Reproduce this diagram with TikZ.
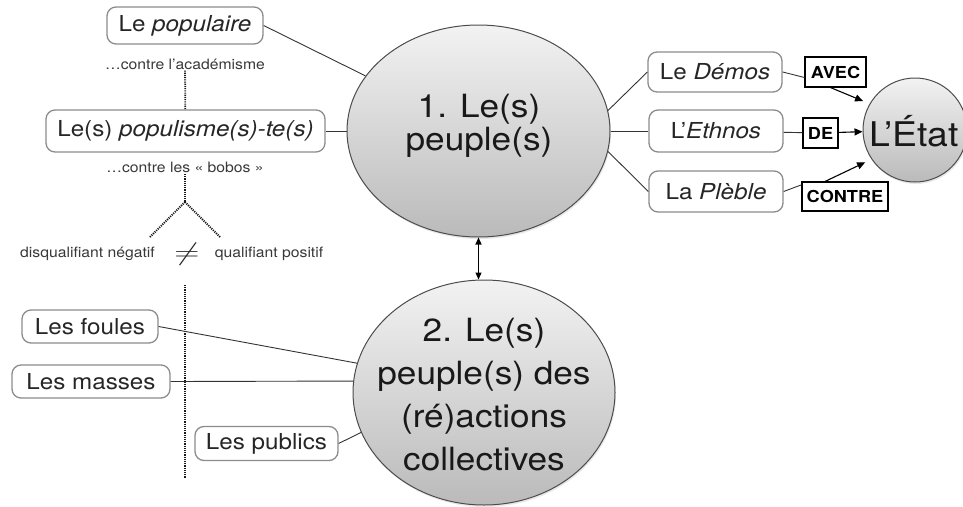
\documentclass[tikz,border=0pt]{standalone}
\usepackage{fontspec}
\usepackage{graphicx}
\setmainfont{TeX Gyre Heros}[FakeStretch=1.1]
\usetikzlibrary{shapes.geometric,arrows.meta,shadows}
\newcommand\bxfont{\fontsize{22}{26}\selectfont}
\newcommand\tgfont{\fontsize{16.5}{18}\selectfont\bfseries}
\newcommand\smfont{\fontsize{14.3}{16}\selectfont}
\newcommand\onefont{\fontsize{32}{33}\selectfont}
\newcommand\twofont{\fontsize{32}{43}\selectfont}
\newcommand\etfont{\fontsize{34}{36}\selectfont}
\begin{document}
\begin{tikzpicture}[x=1pt,y=-1pt,
  box/.style={draw=black!45, line width=1.3pt, rounded corners=9pt, fill=white, inner sep=0pt, text=black!85, font=\bxfont},
  tagbox/.style={draw=black, line width=1.1pt, fill=white, inner sep=0pt, font=\tgfont},
  bubble/.style={shape=ellipse, draw=black!70, line width=1pt, top color=black!5, bottom color=black!27,
     drop shadow={opacity=0.18, shadow xshift=1pt, shadow yshift=-2pt}, inner sep=0pt},
  small/.style={font=\smfont, text=black!78, inner sep=1pt},
  link/.style={draw=black!80, line width=0.9pt},
  arr/.style={draw=black, line width=1.1pt, -{Triangle[length=8pt,width=7pt]}},
  dots/.style={draw=black!90, line width=1.8pt, dash pattern=on 1.1pt off 1.1pt}]
\useasboundingbox (0,0) rectangle (963,506);

% bubbles
\node[bubble, minimum width=263pt, minimum height=212pt] (e1) at (478.5,131) {};
\node[bubble, minimum width=262pt, minimum height=225pt] (e2) at (484,392.5) {};
\node[bubble, shape=circle, minimum size=104pt] (etat) at (915,130) {};
\node[font=\onefont, align=center, inner sep=0pt, text=black!90] (t1) at (479,125.5) {1. Le(s)\\peuple(s)};
\node[font=\twofont, align=center, inner sep=0pt, text=black!90] (t2) at (484,395) {2. Le(s)\\peuple(s) des\\(ré)actions\\collectives};
\node[font=\etfont, inner sep=0pt, text=black!90] (t3) at (914,131) {L’État};

% left column
\node[box, minimum width=156pt, minimum height=37pt] (pop) at (185,25.5) {Le \textit{populaire}};
\node[small] (acad) at (185,64) {…contre l’académisme};
\node[box, minimum width=279pt, minimum height=42pt] (popul) at (185.5,131) {Le(s) \textit{populisme(s)-te(s)}};
\node[small] (bobos) at (185,167.5) {…contre les « bobos »};
\coordinate (fork) at (185,202);
\coordinate (fl) at (150,237);
\coordinate (fr) at (220,237);
\node[small] (disq) at (87.5,254) {disqualifiant négatif};
\node[inner sep=0pt, text=black!85] (neq) at (187,254) {\fontsize{24}{24}\selectfont\scalebox{1.4}[1]{$\neq$}};
\node[small] (qual) at (269,254) {qualifiant positif};

\draw[dots] (acad) -- (popul);
\draw[dots] (bobos) -- (fork);
\draw[dots] (fork) -- (fl);
\draw[dots] (fork) -- (fr);
\coordinate (vtop) at (185,285);
\coordinate (vbot) at (185,478);
\draw[dots] (vtop) -- (vbot);

\node[box, minimum width=136pt, minimum height=33pt] (foules) at (90,326.5) {Les foules};
\node[box, minimum width=158pt, minimum height=33pt] (masses) at (91,381.5) {Les masses};
\node[box, minimum width=143pt, minimum height=34pt] (publics) at (266.5,443.5) {Les publics};

% right column
\node[box, minimum width=134pt, minimum height=40pt] (demos) at (715,72) {Le \textit{Démos}};
\node[box, minimum width=134pt, minimum height=42pt] (ethnos) at (716,131) {L’\textit{Ethnos}};
\node[box, minimum width=134pt, minimum height=41pt] (plebe) at (716,191.5) {La \textit{Plèble}};
\node[tagbox, minimum width=61pt, minimum height=30pt] (avec) at (835.5,72) {AVEC};
\node[tagbox, minimum width=35pt, minimum height=30pt] (de) at (820.5,133) {DE};
\node[tagbox, minimum width=86pt, minimum height=29pt] (contre) at (845,196.5) {CONTRE};

% connectors
\draw[link] (pop.east) -- (e1.154);
\draw[link] (popul) -- (e1);
\draw[link] (e1.9) -- (demos.west);
\draw[link] (e1) -- (ethnos);
\draw[link] (e1.-9) -- (plebe.west);
\draw[link] (demos.east) -- (avec.190);
\draw[link] (ethnos) -- (de);
\draw[link] (plebe.east) -- (contre.165);
\draw[arr, shorten >=7pt] ([xshift=-5pt]avec.south) -- (etat.150);
\draw[arr] (de) -- (etat);
\draw[arr, shorten >=7pt] ([xshift=-20pt]contre.north) -- (etat.214);
\draw[draw=black, line width=1.1pt, {Triangle[length=7pt,width=6pt]}-{Triangle[length=7pt,width=6pt]}] (e1.south) -- (e1.south |- e2.north);
\draw[link] (foules.east) -- (e2.167);
\draw[link] (masses.east) -- (e2.175);
\draw[link] (publics.east) -- (e2.198);
\end{tikzpicture}
\end{document}
